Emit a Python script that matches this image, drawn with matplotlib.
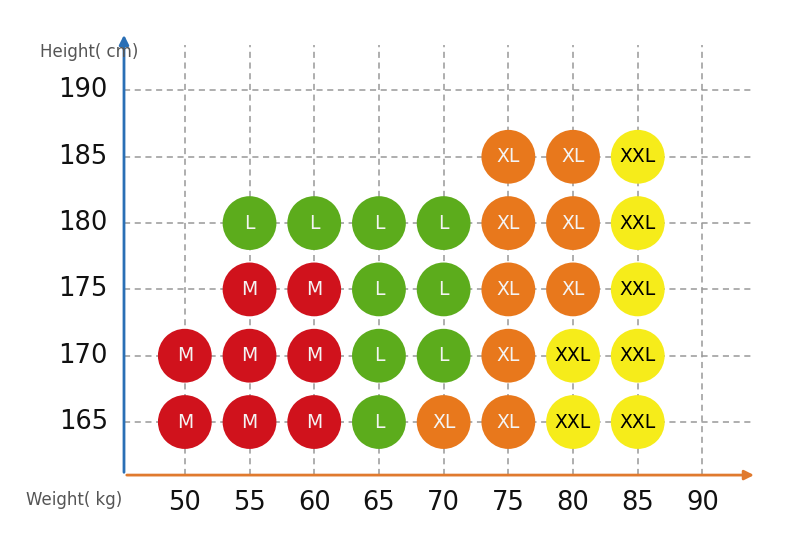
import numpy as np
import matplotlib.pyplot as plt

weights = [50, 55, 60, 65, 70, 75, 80, 85, 90]
heights = [165, 170, 175, 180, 185, 190]

# size chart: one row per height, (weight, size)
row_185 = [(75, 'XL'), (80, 'XL'), (85, 'XXL')]
row_180 = [(55, 'L'), (60, 'L'), (65, 'L'), (70, 'L'), (75, 'XL'), (80, 'XL'), (85, 'XXL')]
row_175 = [(55, 'M'), (60, 'M'), (65, 'L'), (70, 'L'), (75, 'XL'), (80, 'XL'), (85, 'XXL')]
row_170 = [(50, 'M'), (55, 'M'), (60, 'M'), (65, 'L'), (70, 'L'), (75, 'XL'), (80, 'XXL'), (85, 'XXL')]
row_165 = [(50, 'M'), (55, 'M'), (60, 'M'), (65, 'L'), (70, 'XL'), (75, 'XL'), (80, 'XXL'), (85, 'XXL')]
rows = {185: row_185, 180: row_180, 175: row_175, 170: row_170, 165: row_165}

colors = {'M': '#d0121c', 'L': '#5cac1c', 'XL': '#e8781c', 'XXL': '#f6ec1a'}
text_colors = {'M': '#f4f4f4', 'L': '#f4f4f4', 'XL': '#f4f4f4', 'XXL': 'black'}

fig = plt.figure(figsize=(8, 5.35), dpi=100)
ax = fig.add_axes([0.155, 0.112, 0.791, 0.828])
x0, x1 = 45.3, 94.2
y0, y1 = 161.0, 194.4
ax.set_xlim(x0, x1)
ax.set_ylim(y0, y1)
ax.axis('off')

# dashed grid
ax.vlines(weights, y0, 193.4, colors='#999999', linestyles=(0, (4, 3)), linewidth=1.1, zorder=1)
ax.hlines(heights, x0, 94.0, colors='#999999', linestyles=(0, (4, 3)), linewidth=1.1, zorder=1)

# axes arrows
ax.annotate('', xy=(1.0, 0), xytext=(0, 0), xycoords='axes fraction',
            arrowprops=dict(arrowstyle='-|>', color='#e07a2e', lw=2, mutation_scale=14), zorder=3)
ax.annotate('', xy=(0, 1.0), xytext=(0, 0), xycoords='axes fraction',
            arrowprops=dict(arrowstyle='-|>', color='#2a6fb5', lw=2, mutation_scale=14), zorder=3)

for h, items in rows.items():
    for w, size in items:
        ax.scatter(w, h, s=1500, color=colors[size], edgecolors='none', zorder=4)
        ax.text(w, h, size, ha='center', va='center', fontsize=13.5,
                color=text_colors[size], zorder=5, family='DejaVu Sans')

font = 'DejaVu Sans'
for h in heights:
    ax.text(x0 - 1.25, h, str(h), ha='right', va='center', fontsize=18.5, color='#111111', family=font)
for w in weights:
    ax.text(w, y0 - 2.1, str(w), ha='center', va='center', fontsize=18.5, color='#111111', family=font)

ax.text(x0 - 6.5, 192.9, 'Height( cm)', ha='left', va='center', fontsize=12, color='#555555', family=font)
ax.text(x0 - 7.6, y0 - 1.9, 'Weight( kg)', ha='left', va='center', fontsize=12, color='#555555', family=font)

fig.savefig('out.png', dpi=100)
